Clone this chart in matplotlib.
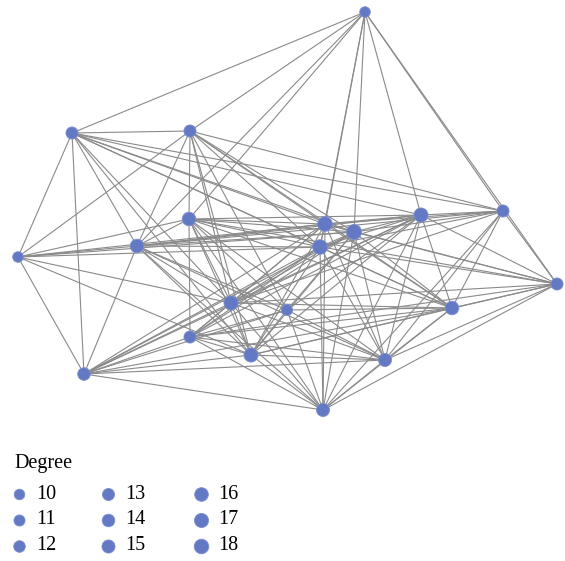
import matplotlib.pyplot as plt
import numpy as np

# Posições dos nós (pixels da imagem original)
nos = ["A", "B", "C", "D", "E", "F", "G", "H", "I", "J",
       "K", "L", "M", "N", "O", "P", "Q", "R", "S", "T"]
node_x = [365, 72, 190, 18, 137, 189, 325, 354, 421, 503,
          320, 557, 231, 287, 452, 190, 251, 385, 84, 323]
node_y = [12, 133, 131, 257, 246, 219, 224, 232, 215, 211,
          247, 284, 303, 310, 308, 337, 355, 360, 374, 410]

# Vizinhos de cada nó (lidos aproximadamente da figura)
vizinhos = {
    "A": "BCEFGHIJLK",
    "B": "ACDESMGHIJKOQ",
    "C": "ABDEFJGHKMQON",
    "D": "BCEFMQSGHK",
    "E": "BCDFSGHIJMQNRTK",
    "F": "ACDEPGHIKMQNOTRL",
    "G": "ABCDEFHIJKMQPSTROL",
    "H": "ABCDEFGIJKMQSTROL",
    "I": "ABEFGHJKMQTROLSP",
    "J": "ABCEGHILKMORT",
    "K": "ABCDEFGHIJMPSQTOLR",
    "L": "AFGHIJKORTMPQ",
    "M": "BCDEFGHIJKLPQSTRO",
    "N": "CEFPSQTORHI",
    "O": "BCFGHIJKLMNQRTPS",
    "P": "FGKILMNOQSTRH",
    "Q": "BCDEFGHIKLMNOPSTR",
    "R": "EFGHIJKLMNOPQST",
    "S": "BDEGHIKMNOPQRT",
    "T": "EFGHIJKLMNOPQRS",
}

legenda_graus = [10, 11, 12, 13, 14, 15, 16, 17, 18]

# monta lista de arestas sem repetição
idx = {n: i for i, n in enumerate(nos)}
arestas = set()
for a, vs in vizinhos.items():
    for b in vs:
        arestas.add(tuple(sorted((idx[a], idx[b]))))
grau = np.zeros(len(nos), dtype=int)
for i, j in arestas:
    grau[i] += 1
    grau[j] += 1


def tamanho(d):
    r = 5.3 + (d - 10) * 0.25  # raio em pixels
    return (2 * r * 0.72) ** 2


cor_no = "#6479c3"
cor_aresta = "#8a8a8a"

fig = plt.figure(figsize=(5.65, 5.61), dpi=100)
ax = fig.add_axes([0, 0, 1, 1])
ax.set_xlim(0, 565)
ax.set_ylim(561, 0)
ax.axis("off")

for i, j in sorted(arestas):
    ax.plot([node_x[i], node_x[j]], [node_y[i], node_y[j]],
            color=cor_aresta, lw=0.8, zorder=1)

ax.scatter(node_x, node_y, s=[tamanho(d) for d in grau], color=cor_no,
           edgecolors="#7d8fcf", linewidths=0.6, zorder=3)

# legenda
fonte = "Liberation Serif"
ax.text(14, 463, "Degree", fontsize=14.5, family=fonte, va="center", ha="left")
col_x = [19, 108, 201]
lin_y = [494, 520, 546]
for k, d in enumerate(legenda_graus):
    cx = col_x[k // 3]
    cy = lin_y[k % 3]
    ax.scatter([cx], [cy], s=tamanho(d), color=cor_no,
               edgecolors="#7d8fcf", linewidths=0.6)
    ax.text(cx + 17, cy, str(d), fontsize=14.5, family=fonte, va="center", ha="left")

plt.savefig("out.png", dpi=100)
